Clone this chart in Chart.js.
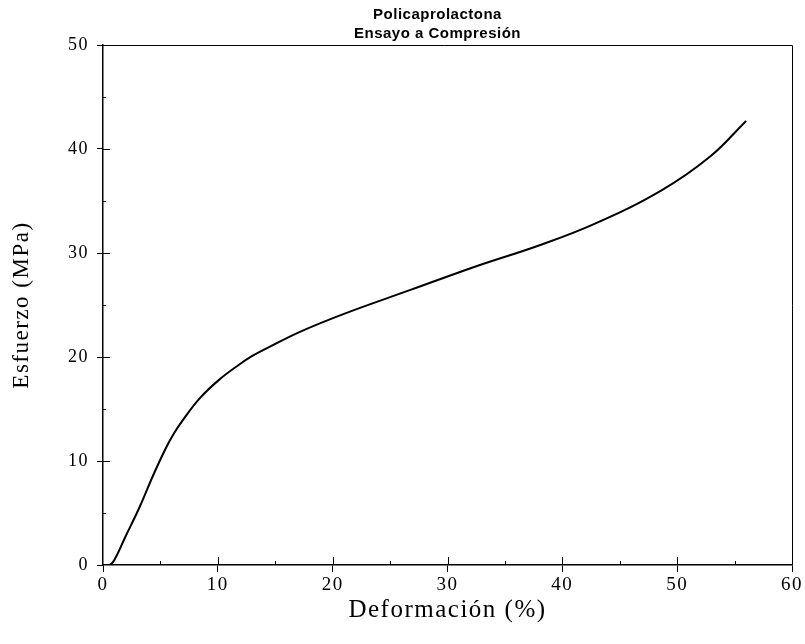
<!DOCTYPE html>
<html>
<head>
<meta charset="utf-8">
<script src="https://cdn.jsdelivr.net/npm/chart.js@4"></script>
<style>
  html, body { margin: 0; padding: 0; background: #fff; }
  #chart { display: block; }
</style>
</head>
<body>
<canvas id="chart" width="805" height="644"></canvas>
<script>
// values
const strain = [0, 0.6, 1.0, 1.9, 3.2, 4.4, 5.5, 6.2, 7.0, 8.4, 10.1, 11.9, 13.0, 14.2, 17.1, 21.1, 26.9, 32.7, 37.9, 42.8, 48.6, 52.9, 56.0];
const stress = [0, 0, 0.5, 2.6, 5.6, 8.7, 11.3, 12.7, 14.0, 16.0, 17.8, 19.3, 20.1, 20.8, 22.4, 24.2, 26.5, 28.8, 30.7, 32.8, 36.0, 39.3, 42.7];
const titleLines = ['Policaprolactona', 'Ensayo a Compresión'];
const xTitle = 'Deformación (%)';
const yTitle = 'Esfuerzo (MPa)';
const xMax = 60, yMax = 50;

const serif = '"Liberation Serif", "Times New Roman", serif';

const points = strain.map((x, i) => ({x: x, y: stress[i]}));

// old plot fonts are spaced out, widen every label a bit
const spacing = {
    id: 'spacing',
    beforeLayout(c) { c.ctx.letterSpacing = '1.5px'; },
    beforeDraw(c) { c.ctx.letterSpacing = '1.5px'; }
};

// frame, inner tick marks and the two-line heading
const frame = {
    id: 'frame',
    afterDraw(c) {
        const ctx = c.ctx, a = c.chartArea;
        const xs = c.scales.x, ys = c.scales.y;
        ctx.save();
        ctx.strokeStyle = '#000';
        ctx.lineWidth = 1;
        ctx.beginPath();
        ctx.moveTo(a.left - 6, a.top + 0.5);
        ctx.lineTo(a.right + 0.5, a.top + 0.5);
        ctx.lineTo(a.right + 0.5, a.bottom);
        ctx.stroke();
        ctx.beginPath();
        for (let v = 5; v < xMax; v += 5) {
            const px = Math.round(xs.getPixelForValue(v)) + 0.5;
            ctx.moveTo(px, a.bottom);
            ctx.lineTo(px, a.bottom - (v % 10 === 0 ? 8 : 4));
        }
        for (let v = 5; v < yMax; v += 5) {
            const py = Math.round(ys.getPixelForValue(v)) + 0.5;
            ctx.moveTo(a.left, py);
            ctx.lineTo(a.left + (v % 10 === 0 ? 7 : 3), py);
        }
        ctx.stroke();

        ctx.letterSpacing = '0.5px';
        ctx.font = 'bold 15px "Liberation Sans", Arial, sans-serif';
        ctx.fillStyle = '#000';
        ctx.textAlign = 'center';
        ctx.textBaseline = 'alphabetic';
        const cx = (a.left + a.right) / 2 - 10;
        ctx.fillText(titleLines[0], cx, a.top - 26);
        ctx.fillText(titleLines[1], cx, a.top - 7);
        ctx.restore();
    }
};

new Chart(document.getElementById('chart'), {
    type: 'line',
    data: {
        datasets: [{
            data: points,
            borderColor: '#000',
            borderWidth: 2,
            pointRadius: 0,
            tension: 0.4,
            fill: false
        }]
    },
    options: {
        responsive: false,
        animation: false,
        events: [],
        layout: {padding: {top: 45, right: 10, bottom: 16, left: 0}},
        plugins: {
            legend: {display: false},
            title: {display: false},
            tooltip: {enabled: false}
        },
        scales: {
            x: {
                type: 'linear',
                min: 0,
                max: xMax,
                afterFit(s) { s.height = 63; },
                ticks: {
                    stepSize: 10,
                    padding: 2,
                    color: '#000',
                    font: {family: serif, size: 19}
                },
                grid: {drawOnChartArea: false, color: '#000', tickLength: 7, tickWidth: 1},
                border: {display: true, color: '#000', width: 1.5},
                title: {
                    display: true,
                    text: xTitle,
                    color: '#000',
                    font: {family: serif, size: 25},
                    padding: {top: 2, bottom: 3}
                }
            },
            y: {
                type: 'linear',
                min: 0,
                max: yMax,
                afterFit(s) { s.width = 103; },
                ticks: {
                    stepSize: 10,
                    padding: 8,
                    color: '#000',
                    font: {family: serif, size: 18}
                },
                grid: {drawOnChartArea: false, color: '#000', tickLength: 6, tickWidth: 1},
                border: {display: true, color: '#000', width: 1.5},
                title: {
                    display: true,
                    text: yTitle,
                    color: '#000',
                    font: {family: serif, size: 23},
                    padding: {top: 8, bottom: 0}
                }
            }
        }
    },
    plugins: [spacing, frame]
});
</script>
</body>
</html>
